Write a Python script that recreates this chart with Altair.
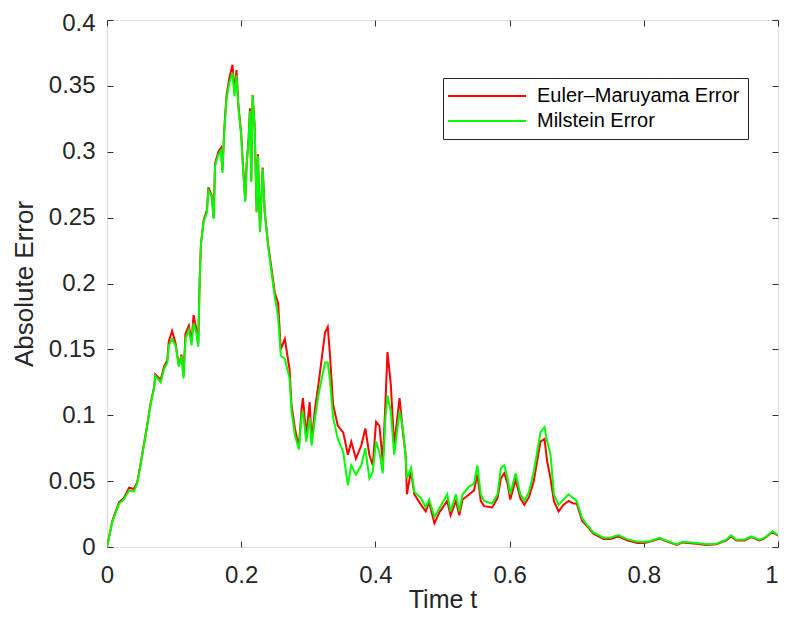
import altair as alt
import pandas as pd

# ---- data ----
t = [
    0, 0.008, 0.018, 0.025, 0.033, 0.04, 0.045, 0.05, 0.055, 0.06,
    0.065, 0.07, 0.072, 0.08, 0.085, 0.09, 0.092, 0.097, 0.102, 0.107,
    0.111, 0.114, 0.117, 0.122, 0.126, 0.129, 0.133, 0.136, 0.138, 0.14,
    0.144, 0.149, 0.151, 0.156, 0.159, 0.161, 0.166, 0.17, 0.172, 0.175,
    0.178, 0.182, 0.187, 0.19, 0.193, 0.196, 0.2, 0.202, 0.206, 0.208,
    0.211, 0.213, 0.215, 0.217, 0.22, 0.223, 0.225, 0.228, 0.232, 0.235,
    0.24, 0.245, 0.25, 0.255, 0.259, 0.265, 0.272, 0.275, 0.28, 0.286,
    0.29, 0.292, 0.297, 0.302, 0.305, 0.31, 0.315, 0.32, 0.325, 0.329,
    0.332, 0.337, 0.344, 0.352, 0.359, 0.364, 0.371, 0.379, 0.385, 0.391,
    0.396, 0.401, 0.406, 0.411, 0.415, 0.418, 0.423, 0.428, 0.436, 0.441,
    0.445, 0.447, 0.453, 0.458, 0.468, 0.475, 0.48, 0.488, 0.495, 0.507,
    0.512, 0.52, 0.525, 0.53, 0.54, 0.547, 0.552, 0.557, 0.562, 0.574,
    0.582, 0.587, 0.592, 0.597, 0.601, 0.609, 0.616, 0.622, 0.629, 0.636,
    0.641, 0.646, 0.652, 0.656, 0.661, 0.666, 0.673, 0.68, 0.688, 0.695,
    0.7, 0.708, 0.715, 0.725, 0.74, 0.75, 0.762, 0.775, 0.79, 0.8,
    0.806, 0.824, 0.83, 0.849, 0.858, 0.878, 0.893, 0.908, 0.923, 0.93,
    0.938, 0.95, 0.96, 0.972, 0.98, 0.992, 1.0,
]

euler_maruyama_err = [
    0, 0.02, 0.034, 0.037, 0.045, 0.044, 0.049, 0.063, 0.078, 0.093,
    0.109, 0.121, 0.131, 0.127, 0.137, 0.142, 0.156, 0.164, 0.155, 0.138,
    0.146, 0.13, 0.162, 0.168, 0.156, 0.176, 0.166, 0.154, 0.201, 0.23,
    0.248, 0.256, 0.273, 0.267, 0.25, 0.291, 0.3, 0.303, 0.286, 0.319,
    0.342, 0.355, 0.366, 0.345, 0.362, 0.334, 0.314, 0.295, 0.263, 0.29,
    0.31, 0.333, 0.278, 0.343, 0.32, 0.255, 0.298, 0.24, 0.288, 0.255,
    0.23, 0.212, 0.193, 0.185, 0.15, 0.158, 0.135, 0.108, 0.09, 0.076,
    0.105, 0.113, 0.085, 0.11, 0.08, 0.105, 0.123, 0.143, 0.163, 0.167,
    0.148, 0.108, 0.092, 0.087, 0.07, 0.08, 0.067, 0.077, 0.09, 0.07,
    0.062, 0.095, 0.092, 0.065, 0.11, 0.148, 0.123, 0.077, 0.113, 0.087,
    0.07, 0.04, 0.058, 0.04, 0.032, 0.027, 0.034, 0.018, 0.026, 0.035,
    0.024, 0.035, 0.024, 0.036, 0.04, 0.043, 0.055, 0.035, 0.031, 0.03,
    0.037, 0.052, 0.056, 0.048, 0.036, 0.051, 0.037, 0.032, 0.038, 0.05,
    0.065, 0.08, 0.082, 0.065, 0.052, 0.035, 0.027, 0.032, 0.035, 0.033,
    0.033, 0.02, 0.016, 0.01, 0.006, 0.006, 0.008, 0.005, 0.003, 0.003,
    0.0035, 0.0065, 0.005, 0.0015, 0.0035, 0.0025, 0.0015, 0.002, 0.005, 0.008,
    0.005, 0.005, 0.0075, 0.005, 0.0065, 0.0115, 0.0085,
]

milstein_err = [
    0, 0.019, 0.033, 0.036, 0.043, 0.042, 0.048, 0.062, 0.077, 0.092,
    0.108, 0.12, 0.13, 0.125, 0.135, 0.14, 0.153, 0.158, 0.153, 0.137,
    0.145, 0.128, 0.158, 0.165, 0.153, 0.17, 0.163, 0.152, 0.2, 0.229,
    0.247, 0.254, 0.271, 0.266, 0.249, 0.289, 0.298, 0.301, 0.284, 0.317,
    0.339, 0.352, 0.36, 0.342, 0.358, 0.332, 0.312, 0.294, 0.262, 0.289,
    0.309, 0.331, 0.277, 0.343, 0.319, 0.254, 0.297, 0.239, 0.287, 0.254,
    0.229, 0.209, 0.19, 0.175, 0.145, 0.143, 0.128, 0.103, 0.085, 0.074,
    0.1, 0.103, 0.08, 0.098, 0.077, 0.098, 0.115, 0.128, 0.14, 0.14,
    0.128, 0.098, 0.082, 0.072, 0.047, 0.062, 0.055, 0.062, 0.075, 0.052,
    0.057, 0.08, 0.072, 0.056, 0.098, 0.115, 0.103, 0.07, 0.103, 0.09,
    0.07, 0.052, 0.06, 0.042, 0.037, 0.03, 0.036, 0.023, 0.029, 0.04,
    0.027, 0.04, 0.027, 0.04, 0.046, 0.048, 0.062, 0.04, 0.035, 0.033,
    0.04, 0.06, 0.062, 0.052, 0.04, 0.056, 0.04, 0.035, 0.042, 0.057,
    0.072, 0.087, 0.091, 0.08, 0.07, 0.04, 0.032, 0.036, 0.04, 0.037,
    0.035, 0.022, 0.017, 0.011, 0.007, 0.007, 0.009, 0.006, 0.004, 0.004,
    0.004, 0.007, 0.0055, 0.002, 0.004, 0.003, 0.002, 0.0025, 0.0055, 0.009,
    0.0055, 0.0055, 0.008, 0.0055, 0.007, 0.012, 0.009,
]

series_names = ["Euler–Maruyama Error", "Milstein Error"]
series_colors = ["#ff0000", "#00ff00"]
x_ticks = [0, 0.2, 0.4, 0.6, 0.8, 1]
y_ticks = [0, 0.05, 0.1, 0.15, 0.2, 0.25, 0.3, 0.35, 0.4]

df_em = pd.DataFrame({"t": t, "err": euler_maruyama_err, "series": series_names[0]})
df_mil = pd.DataFrame({"t": t, "err": milstein_err, "series": series_names[1]})

FONT = "Liberation Sans"
TXT = "#262626"
TICK = "#333333"

xs = alt.Scale(domain=[0, 1], nice=False, zero=False)
ys = alt.Scale(domain=[0, 0.4], nice=False)

legend = alt.Legend(
    title=None, orient="none", legendX=336, legendY=58,
    symbolType="M-2,0L10,0", symbolSize=169, symbolStrokeWidth=2,
    labelFontSize=20, labelFont=FONT, labelColor="#000000", labelLimit=400,
    labelOffset=66, padding=8, rowPadding=5,
    fillColor="#ffffff", strokeColor="#262626",
)
color = alt.Color("series:N", scale=alt.Scale(domain=series_names, range=series_colors), legend=legend)

axis_common = dict(domain=False, grid=False, tickSize=6, offset=-6, tickColor=TICK, tickWidth=1)

x_bottom = alt.X("t:Q", scale=xs, axis=alt.Axis(
    orient="bottom", values=x_ticks, format="~g", title="Time t",
    labelFontSize=24, labelFont=FONT, labelColor=TXT, labelPadding=16,
    labelAlign={"condition": {"test": "datum.value == 1", "value": "right"}, "value": "center"},
    titleFontSize=25, titleFont=FONT, titleColor=TXT, titleFontWeight="normal", titlePadding=0,
    labelFlush=False, labelOverlap=False, **axis_common))
y_left = alt.Y("err:Q", scale=ys, axis=alt.Axis(
    orient="left", values=y_ticks, format="~g", title="Absolute Error",
    labelFontSize=24, labelFont=FONT, labelColor=TXT, labelPadding=12,
    labelOffset={"condition": {"test": "datum.value == 0.4", "value": 3}, "value": 0},
    titleFontSize=26, titleFont=FONT, titleColor=TXT, titleFontWeight="normal", titlePadding=11,
    labelFlush=False, labelOverlap=False, **axis_common))
x_top = alt.X("t:Q", scale=xs, axis=alt.Axis(
    orient="top", values=x_ticks, labels=False, title=None, **axis_common))
y_right = alt.Y("err:Q", scale=ys, axis=alt.Axis(
    orient="right", values=y_ticks, labels=False, title=None, **axis_common))

em_line = alt.Chart(df_em).mark_line(strokeWidth=2, clip=True).encode(
    x=x_bottom, y=y_left, color=color)
mil_line = alt.Chart(df_mil).mark_line(strokeWidth=2, clip=True).encode(
    x=x_top, y=y_right, color=color)

# total size kept within 771 x 605 so the page (with its 8px margins) fits the window
chart = alt.layer(em_line, mil_line).resolve_axis(
    x="independent", y="independent"
).properties(
    width=671, height=527,
    padding={"left": 99, "top": 12, "right": 1, "bottom": 66},
    autosize="none",
).configure_view(stroke="#777777", strokeWidth=1).configure(background="#ffffff")

chart.save("out.html", embed_options={"renderer": "svg", "actions": False})
